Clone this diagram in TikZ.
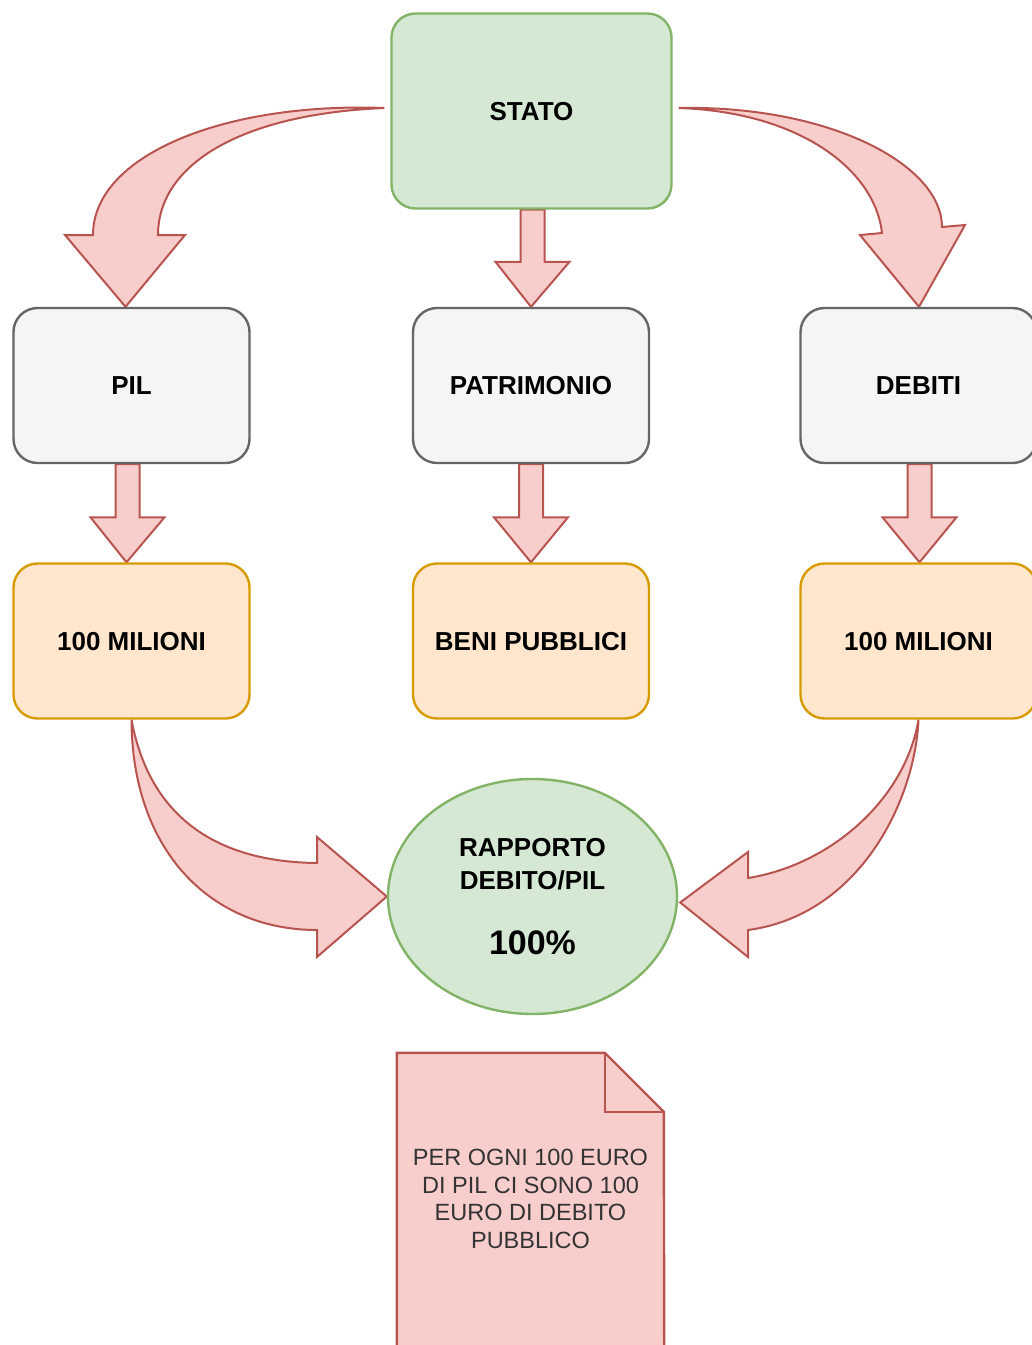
\documentclass[tikz,border=0pt]{standalone}
\usepackage{fontspec}
\setmainfont{Liberation Sans}
\usetikzlibrary{shapes.geometric,calc}
\pgfdeclarelayer{bg}
\pgfsetlayers{bg,main}
\definecolor{gfill}{HTML}{D5E8D4}
\definecolor{gline}{HTML}{82B366}
\definecolor{sfill}{HTML}{F5F5F5}
\definecolor{sline}{HTML}{666666}
\definecolor{ofill}{HTML}{FFE6CC}
\definecolor{oline}{HTML}{D79B00}
\definecolor{rfill}{HTML}{F8CECC}
\definecolor{rline}{HTML}{B85450}
\definecolor{ntext}{HTML}{333333}
\tikzset{
  box/.style={rectangle, rounded corners=24pt, line width=2.4pt, minimum width=236pt,
    minimum height=155pt, inner sep=0pt, text depth=0pt,
    font=\fontsize{26}{33}\selectfont\bfseries, align=center},
  greenbox/.style={box, fill=gfill, draw=gline},
  greybox/.style={box, fill=sfill, draw=sline},
  orangebox/.style={box, fill=ofill, draw=oline},
  ratioshape/.style={ellipse, fill=gfill, draw=gline, line width=2.4pt, minimum width=289pt,
    minimum height=235pt, inner sep=0pt, font=\fontsize{26}{33}\selectfont\bfseries, align=center},
  notetext/.style={rectangle, minimum width=267pt, minimum height=292pt, inner sep=0pt,
    text=ntext, font=\fontsize{23.5}{27.5}\selectfont, align=center},
  barrow/.style={fill=rfill, draw=rline, line width=2pt, line join=miter},
  notefill/.style={fill=rfill},
  noteline/.style={draw=rline, line width=2.4pt, line join=miter},
}
\newcommand\vbarrow[2]{%
  \draw[barrow] let \p1=(#1), \p2=(#2) in
    (\x1-12pt,\y1) -- (\x1-12pt,\y2+45pt) -- (\x1-37pt,\y2+45pt) -- (\x2,\y2)
    -- (\x1+37pt,\y2+45pt) -- (\x1+12pt,\y2+45pt) -- (\x1+12pt,\y1) -- cycle;}
\begin{document}
\begin{tikzpicture}[x=1pt,y=-1pt]
\useasboundingbox (0,0) rectangle (1032,1345);
\clip (0,0) rectangle (1032,1345);
% nodes
\node[greenbox, minimum width=280pt, minimum height=195pt] (stato) at (531.5,111) {STATO};
\node[greybox] (pil) at (131.5,385.5) {PIL};
\node[greybox] (patr) at (531,385.5) {PATRIMONIO};
\node[greybox] (debiti) at (918.5,385.5) {DEBITI};
\node[orangebox] (m1) at (131.5,641) {100 MILIONI};
\node[orangebox] (beni) at (531,641) {BENI PUBBLICI};
\node[orangebox] (m2) at (918.5,641) {100 MILIONI};
\node[ratioshape] (ratio) at (532.5,896.5) {RAPPORTO\\DEBITO/PIL\\[32pt]{\fontsize{34}{34}\selectfont 100\%}};
\node[notetext] (note) at (530.5,1199) {PER OGNI 100 EURO\\DI PIL CI SONO 100\\EURO DI DEBITO\\PUBBLICO};
\begin{pgfonlayer}{bg}
  % straight block arrows
  \vbarrow{$(stato.south)+(1,0)$}{patr.north}
  \vbarrow{$(pil.south)+(-4,0)$}{$(m1.north)+(-5,0)$}
  \vbarrow{patr.south}{beni.north}
  \vbarrow{$(debiti.south)+(1,0)$}{$(m2.north)+(1,0)$}
  % curved arrow STATO -> PIL
  \draw[barrow] ($(stato.west)+(-6,-3)$) .. controls (225,102) and (93,155) .. (93,235)
     -- (65,235) -- ($(pil.north)+(-6,0)$) -- (185,235) -- (158,235)
     .. controls (158,165) and (240,114) .. ($(stato.west)+(-6,-3)$) -- cycle;
  % curved arrow STATO -> DEBITI
  \draw[barrow] ($(stato.east)+(6,-3)$) .. controls (830,105) and (942,165) .. (942,227)
     -- (965,225) -- ($(debiti.north)+(0.5,0)$) -- (860,235) -- (882,233)
     .. controls (875,170) and (800,112) .. ($(stato.east)+(6,-3)$) -- cycle;
  % curved arrow 100 MILIONI (left) -> RAPPORTO
  \draw[barrow] (m1.south) .. controls (132,850) and (210,930) .. (317,930)
     -- (317,957) -- (ratio.west) -- (317,837) -- (317,863)
     .. controls (220,862) and (150,820) .. (m1.south) -- cycle;
  % curved arrow 100 MILIONI (right) -> RAPPORTO
  \draw[barrow] (m2.south) .. controls (915,800) and (860,915) .. (748,930)
     -- (748,957) -- ($(ratio.east)+(2,6)$) -- (748,852) -- (748,878)
     .. controls (830,865) and (905,800) .. (m2.south) -- cycle;
  % note shape
  \fill[notefill] (note.north west) -- ++(208,0) -- ++(59,59) -- (note.south east)
     -- (note.south west) -- cycle;
  \draw[noteline] (note.south west) -- (note.north west) -- ++(208,0) -- ++(59,59)
     -- (note.south east);
  \draw[noteline] ($(note.north west)+(208,0)$) -- ++(0,59) -- ++(59,0);
\end{pgfonlayer}
\end{tikzpicture}
\end{document}
